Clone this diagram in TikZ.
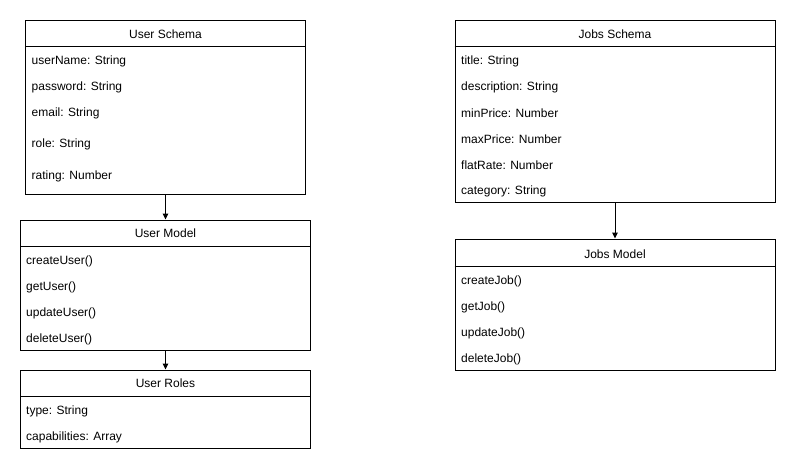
\documentclass[tikz,border=0pt]{standalone}
\usepackage{fontspec}
\setmainfont{Liberation Sans}
\usetikzlibrary{arrows.meta}
\begin{document}
\begin{tikzpicture}[x=1pt,y=-1pt,
  box/.style={draw,line width=1pt,inner sep=0pt},
  sep/.style={line width=1pt},
  lbl/.style={anchor=west,inner sep=0pt,yshift=-1pt,font=\fontsize{12}{14}\selectfont},
  ttl/.style={inner sep=0pt,yshift=-0.5pt,font=\fontsize{12}{14}\selectfont},
  arr/.style={-{Triangle[length=6pt,width=5.5pt]},line width=1pt}]
\useasboundingbox (0,0) rectangle (796,472);
\fill[white] (0,0) rectangle (796,472);
% boxes
\node[box,minimum width=280pt,minimum height=173.5pt] (us) at (165.5,107.25) {};
\node[box,minimum width=290pt,minimum height=130pt] (um) at (165.5,285) {};
\node[box,minimum width=290pt,minimum height=78pt] (ur) at (165.5,409) {};
\node[box,minimum width=320pt,minimum height=182pt] (js) at (615,111) {};
\node[box,minimum width=320pt,minimum height=131pt] (jm) at (615,304.5) {};
% header separators
\draw[sep] (us.west |- 0,46) -- (us.east |- 0,46);
\draw[sep] (um.west |- 0,246) -- (um.east |- 0,246);
\draw[sep] (ur.west |- 0,396) -- (ur.east |- 0,396);
\draw[sep] (js.west |- 0,46.5) -- (js.east |- 0,46.5);
\draw[sep] (jm.west |- 0,266.5) -- (jm.east |- 0,266.5);
% titles
\node[ttl] (ust) at (165.5,34) {User Schema};
\node[ttl] (umt) at (165.5,233) {User Model};
\node[ttl] (urt) at (165.5,383) {User Roles};
\node[ttl] (jst) at (615,34) {Jobs Schema};
\node[ttl] (jmt) at (615,254) {Jobs Model};
% User Schema fields
\node[lbl] (us1) at (31.5,60) {userName: String};
\node[lbl] (us2) at (31.5,86) {password: String};
\node[lbl] (us3) at (31.5,112) {email: String};
\node[lbl] (us4) at (31.5,143.5) {role: String};
\node[lbl] (us5) at (31.5,175) {rating: Number};
% User Model methods
\node[lbl] (um1) at (26,260) {createUser()};
\node[lbl] (um2) at (26,286) {getUser()};
\node[lbl] (um3) at (26,312) {updateUser()};
\node[lbl] (um4) at (26,338) {deleteUser()};
% User Roles fields
\node[lbl] (ur1) at (26,410) {type: String};
\node[lbl] (ur2) at (26,436) {capabilities: Array};
% Jobs Schema fields
\node[lbl] (js1) at (461,60) {title: String};
\node[lbl] (js2) at (461,86) {description: String};
\node[lbl] (js3) at (461,112) {minPrice: Number};
\node[lbl] (js4) at (461,138) {maxPrice: Number};
\node[lbl] (js5) at (461,164) {flatRate: Number};
\node[lbl] (js6) at (461,190) {category: String};
% Jobs Model methods
\node[lbl] (jm1) at (461,280) {createJob()};
\node[lbl] (jm2) at (461,306) {getJob()};
\node[lbl] (jm3) at (461,332) {updateJob()};
\node[lbl] (jm4) at (461,358) {deleteJob()};
% connectors
\draw[arr] (us.south) -- (um.north);
\draw[arr] (um.south) -- (ur.north);
\draw[arr] (js.south) -- (jm.north);
\end{tikzpicture}
\end{document}
